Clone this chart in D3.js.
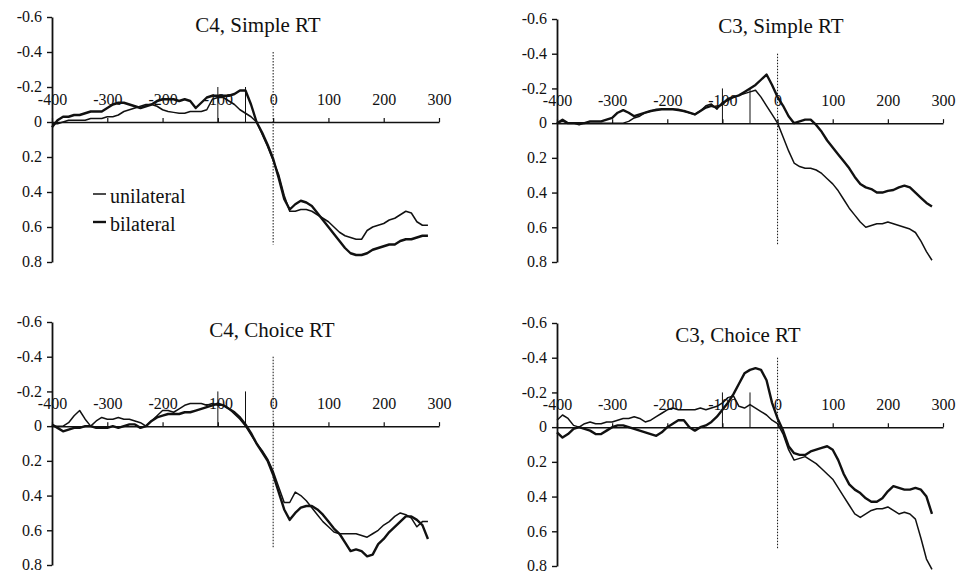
<!DOCTYPE html>
<html>
<head>
<meta charset="utf-8">
<script src="https://cdn.jsdelivr.net/npm/d3@7"></script>
<style>
  body { margin: 0; background: #fff; }
  text { font-family: "Liberation Serif", "Times New Roman", serif; fill: #111; }
</style>
</head>
<body>
<svg id="chart" width="967" height="573"></svg>
<script>
/* data: time (ms) and lateralised amplitude per panel */
var times = [-400, -390, -380, -370, -360, -350, -340, -330, -320, -310,
             -300, -290, -280, -270, -260, -250, -240, -230, -220, -210,
             -200, -190, -180, -170, -160, -150, -140, -130, -120, -110,
             -100, -90, -80, -70, -60, -50, -40, -30, -20, -10,
             0, 10, 20, 30, 40, 50, 60, 70, 80, 90,
             100, 110, 120, 130, 140, 150, 160, 170, 180, 190,
             200, 210, 220, 230, 240, 250, 260, 270, 280];

var titles = ["C4, Simple RT", "C3, Simple RT", "C4, Choice RT", "C3, Choice RT"];
var legendLabels = ["unilateral", "bilateral"];

var xTicks = [-400, -300, -200, -100, 0, 100, 200, 300];
var xTickLabels = ["-400", "-300", "-200", "-100", "0", "100", "200", "300"];
var yTicks = [-0.6, -0.4, -0.2, 0, 0.2, 0.4, 0.6, 0.8];
var yTickLabels = ["-0.6", "-0.4", "-0.2", "0", "0.2", "0.4", "0.6", "0.8"];

var markTimes = [-100, -50];   // solid markers, from 0 to -0.2
var markTop = -0.2;
var zeroLine = [-0.4, 0.7];    // dotted line at t = 0

var c4SimpleUni = [0.01, 0.01, 0.0, -0.01, -0.01, -0.01, -0.01, -0.02, -0.02, -0.02,
                   -0.03, -0.03, -0.04, -0.06, -0.07, -0.08, -0.09, -0.10, -0.10, -0.09,
                   -0.07, -0.06, -0.055, -0.05, -0.05, -0.06, -0.06, -0.06, -0.07, -0.13,
                   -0.14, -0.14, -0.12, -0.10, -0.07, -0.05, -0.03, 0.0, 0.07, 0.14,
                   0.22, 0.30, 0.42, 0.51, 0.51, 0.50, 0.50, 0.51, 0.53, 0.55,
                   0.57, 0.60, 0.63, 0.65, 0.66, 0.67, 0.67, 0.62, 0.60, 0.59,
                   0.58, 0.56, 0.55, 0.53, 0.51, 0.52, 0.57, 0.59, 0.59];
var c4SimpleBil = [0.03, -0.01, -0.03, -0.03, -0.04, -0.04, -0.05, -0.06, -0.06, -0.06,
                   -0.08, -0.10, -0.11, -0.11, -0.10, -0.09, -0.08, -0.09, -0.10, -0.12,
                   -0.13, -0.13, -0.13, -0.12, -0.13, -0.12, -0.08, -0.11, -0.14, -0.15,
                   -0.15, -0.15, -0.15, -0.16, -0.18, -0.18, -0.10, 0.0, 0.06, 0.13,
                   0.21, 0.32, 0.44, 0.50, 0.47, 0.45, 0.46, 0.48, 0.52, 0.56,
                   0.60, 0.64, 0.68, 0.72, 0.75, 0.76, 0.76, 0.75, 0.73, 0.72,
                   0.71, 0.70, 0.70, 0.68, 0.67, 0.67, 0.66, 0.65, 0.65];

var c3SimpleUni = [0.0, -0.01, 0.0, 0.0, 0.01, 0.0, 0.0, 0.0, 0.0, 0.0,
                   0.0, 0.0, 0.0, -0.01, -0.03, -0.04, -0.06, -0.07, -0.08, -0.08,
                   -0.08, -0.08, -0.08, -0.07, -0.06, -0.05, -0.07, -0.10, -0.11, -0.08,
                   -0.12, -0.13, -0.15, -0.16, -0.17, -0.18, -0.19, -0.15, -0.10, -0.05,
                   0.0, 0.08, 0.16, 0.23, 0.25, 0.26, 0.26, 0.27, 0.29, 0.32,
                   0.35, 0.39, 0.44, 0.49, 0.53, 0.57, 0.60, 0.59, 0.58, 0.58,
                   0.57, 0.58, 0.59, 0.60, 0.61, 0.63, 0.68, 0.74, 0.79];
var c3SimpleBil = [0.0, -0.02, 0.0, 0.0, 0.0, 0.0, -0.01, -0.01, -0.01, -0.02,
                   -0.03, -0.06, -0.075, -0.06, -0.04, -0.05, -0.06, -0.07, -0.075, -0.08,
                   -0.08, -0.08, -0.075, -0.07, -0.06, -0.05, -0.07, -0.09, -0.10, -0.09,
                   -0.11, -0.14, -0.15, -0.16, -0.18, -0.20, -0.22, -0.25, -0.28, -0.22,
                   -0.15, -0.10, -0.04, 0.0, -0.01, -0.02, -0.02, 0.01, 0.05, 0.10,
                   0.14, 0.18, 0.22, 0.26, 0.31, 0.35, 0.37, 0.38, 0.40, 0.40,
                   0.39, 0.385, 0.37, 0.36, 0.37, 0.40, 0.43, 0.46, 0.48];

var c4ChoiceUni = [0.0, 0.0, 0.0, -0.02, -0.06, -0.09, -0.04, 0.0, -0.03, -0.05,
                   -0.04, -0.04, -0.05, -0.04, -0.04, -0.03, -0.02, 0.0, -0.03, -0.06,
                   -0.09, -0.09, -0.08, -0.10, -0.12, -0.13, -0.13, -0.13, -0.12, -0.13,
                   -0.12, -0.12, -0.10, -0.07, -0.04, 0.0, 0.05, 0.10, 0.14, 0.19,
                   0.26, 0.35, 0.44, 0.44, 0.38, 0.40, 0.43, 0.47, 0.51, 0.55,
                   0.58, 0.61, 0.62, 0.62, 0.62, 0.62, 0.63, 0.64, 0.62, 0.60,
                   0.57, 0.55, 0.52, 0.50, 0.51, 0.53, 0.58, 0.55, 0.55];
var c4ChoiceBil = [-0.01, 0.01, 0.03, 0.02, 0.01, 0.01, 0.0, 0.0, 0.01, 0.01,
                   0.01, 0.0, 0.01, 0.0, -0.01, -0.01, 0.01, 0.0, -0.03, -0.05,
                   -0.06, -0.07, -0.07, -0.07, -0.08, -0.08, -0.09, -0.10, -0.11, -0.12,
                   -0.13, -0.12, -0.10, -0.08, -0.05, -0.01, 0.04, 0.10, 0.15, 0.20,
                   0.28, 0.38, 0.48, 0.54, 0.50, 0.47, 0.46, 0.46, 0.48, 0.51,
                   0.55, 0.59, 0.62, 0.67, 0.72, 0.71, 0.72, 0.75, 0.74, 0.68,
                   0.65, 0.61, 0.58, 0.55, 0.52, 0.52, 0.54, 0.57, 0.65];

var c3ChoiceUni = [-0.04, -0.07, -0.05, -0.01, 0.0, -0.02, -0.03, -0.02, -0.02, -0.03,
                   -0.03, -0.04, -0.05, -0.05, -0.06, -0.05, -0.03, -0.04, -0.06, -0.08,
                   -0.10, -0.11, -0.10, -0.10, -0.10, -0.10, -0.11, -0.10, -0.11, -0.12,
                   -0.14, -0.17, -0.18, -0.12, -0.11, -0.13, -0.11, -0.09, -0.07, -0.04,
                   -0.02, 0.04, 0.13, 0.19, 0.18, 0.17, 0.19, 0.21, 0.24, 0.27,
                   0.30, 0.35, 0.40, 0.45, 0.50, 0.52, 0.50, 0.48, 0.47, 0.47,
                   0.46, 0.48, 0.50, 0.49, 0.50, 0.53, 0.64, 0.76, 0.82];
var c3ChoiceBil = [0.03, 0.06, 0.04, 0.01, 0.0, 0.01, 0.02, 0.04, 0.04, 0.02,
                   0.0, -0.01, -0.01, 0.0, 0.01, 0.02, 0.03, 0.04, 0.05, 0.03,
                   0.0, -0.02, -0.04, -0.04, 0.0, 0.02, 0.0, -0.01, -0.03, -0.06,
                   -0.10, -0.14, -0.19, -0.25, -0.31, -0.33, -0.34, -0.33, -0.27, -0.14,
                   -0.05, 0.02, 0.11, 0.15, 0.16, 0.16, 0.14, 0.13, 0.12, 0.11,
                   0.13, 0.19, 0.27, 0.33, 0.36, 0.38, 0.41, 0.43, 0.43, 0.41,
                   0.37, 0.34, 0.35, 0.36, 0.36, 0.35, 0.36, 0.40, 0.50];

var series = [
  [c4SimpleUni, c4SimpleBil],
  [c3SimpleUni, c3SimpleBil],
  [c4ChoiceUni, c4ChoiceBil],
  [c3ChoiceUni, c3ChoiceBil]
];

/* layout */
var panels = [
  { left: 52,  right: 439, top: 17,  bottom: 262, tx: 258, ty: 32,  legend: true },
  { left: 557, right: 943, top: 19,  bottom: 262, tx: 781, ty: 33 },
  { left: 52,  right: 439, top: 322, bottom: 565, tx: 272, ty: 337 },
  { left: 557, right: 943, top: 323, bottom: 566, tx: 738, ty: 342 }
];
var widths = [1.5, 2.4];   // unilateral thin, bilateral thick
var ink = "#111";

var svg = d3.select("#chart");

panels.forEach(function(p, i){
    var g = svg.append("g");
    var x = d3.scaleLinear().domain([-400, 300]).range([p.left, p.right]);
    var y = d3.scaleLinear().domain([-0.6, 0.8]).range([p.top, p.bottom]);

    // y axis
    var yAxis = g.append("g")
        .attr("transform", `translate(${p.left},0)`)
        .call(d3.axisLeft(y).tickValues(yTicks).tickSize(5).tickSizeOuter(0)
              .tickPadding(5).tickFormat((d, k) => yTickLabels[k]));
    yAxis.select(".domain").attr("stroke", ink).attr("stroke-width", 1.8);
    yAxis.selectAll(".tick line").attr("stroke", ink).attr("stroke-width", 1.4);
    yAxis.selectAll("text").style("font-size", "16px").attr("fill", ink)
        .attr("dy", "0.3em")
        .style("font-family", '"Liberation Serif", serif');

    // x axis at zero, ticks and labels above
    var xAxis = g.append("g")
        .attr("transform", `translate(0,${y(0)})`)
        .call(d3.axisTop(x).tickValues(xTicks).tickSize(4).tickSizeOuter(0)
              .tickPadding(13).tickFormat((d, k) => xTickLabels[k]));
    xAxis.select(".domain").attr("stroke", ink).attr("stroke-width", 1.5);
    xAxis.selectAll(".tick line").attr("stroke", ink).attr("stroke-width", 1.2);
    xAxis.selectAll("text").style("font-size", "16px").attr("fill", ink)
        .style("font-family", '"Liberation Serif", serif');

    // markers
    g.selectAll(".mark")
        .data(markTimes)
        .join("line")
        .attr("class", "mark")
        .attr("x1", d => x(d)).attr("x2", d => x(d))
        .attr("y1", y(0)).attr("y2", y(markTop))
        .attr("stroke", ink).attr("stroke-width", 1);

    g.append("line")
        .attr("x1", x(0)).attr("x2", x(0))
        .attr("y1", y(zeroLine[0])).attr("y2", y(zeroLine[1]))
        .attr("stroke", ink).attr("stroke-width", 1)
        .attr("stroke-dasharray", "1.5,1.5");

    // title
    g.append("text")
        .attr("x", p.tx).attr("y", p.ty)
        .attr("text-anchor", "middle")
        .style("font-size", "21px")
        .text(titles[i]);

    // curves
    var line = d3.line()
        .x((d, k) => x(times[k]))
        .y(d => y(d));

    g.selectAll(".wave")
        .data(series[i])
        .join("path")
        .attr("class", "wave")
        .attr("d", line)
        .attr("fill", "none")
        .attr("stroke", ink)
        .attr("stroke-width", (d, k) => widths[k])
        .attr("stroke-linejoin", "round");

    if (p.legend){
        var lg = g.selectAll(".legend")
            .data(legendLabels)
            .join("g")
            .attr("class", "legend")
            .attr("transform", (d, k) => `translate(93,${194 + k * 28})`);
        lg.append("line")
            .attr("x1", 0).attr("x2", 13)
            .attr("stroke", ink).attr("stroke-width", (d, k) => widths[k]);
        lg.append("text")
            .attr("x", 17).attr("y", 9)
            .style("font-size", "20px")
            .text(d => d);
    }
});
</script>
</body>
</html>
